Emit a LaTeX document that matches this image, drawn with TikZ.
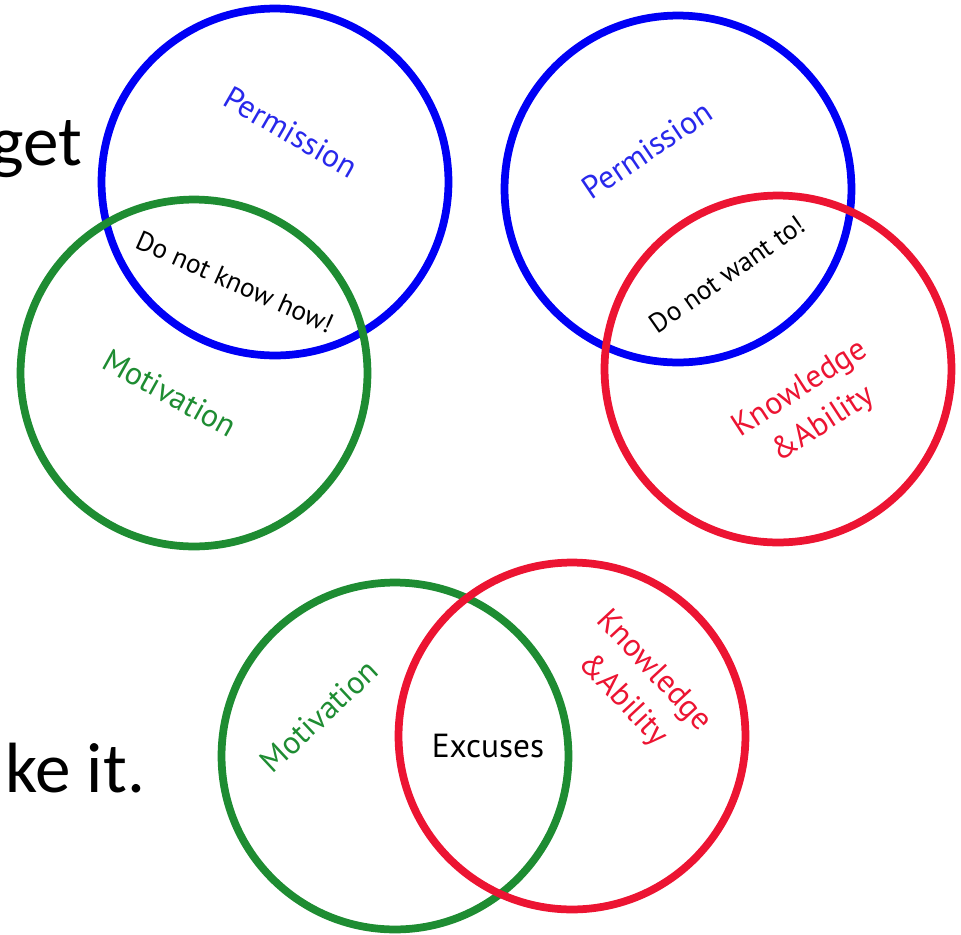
\documentclass[tikz,border=0pt]{standalone}
\usepackage{fontspec}
\setmainfont{Carlito}
\newfontfamily\vennfont{PT Sans}
\usetikzlibrary{positioning}
\definecolor{vennblue}{RGB}{0,0,245}
\definecolor{venngreen}{RGB}{30,140,50}
\definecolor{vennred}{RGB}{236,20,50}
\definecolor{txtblue}{RGB}{40,40,235}

\begin{document}
\begin{tikzpicture}[
    x=0.02cm, y=-0.02cm,
    ring/.style={circle, draw=#1, line width=0.155cm, minimum size=6.94cm, inner sep=0pt},
    lbl/.style={font=\vennfont\fontsize{18.2}{24}\selectfont, text=#1, align=center, inner sep=0pt},
    inter/.style={font=\vennfont\fontsize{15.5}{19}\selectfont, inner sep=0pt},
    big/.style={font=\fontsize{40.5}{48}\selectfont, inner sep=0pt}
]
    \useasboundingbox (0,0) rectangle (961,934);
    \clip (0,0) rectangle (961,934);

    % Slide text behind the diagram
    \node[big, anchor=base east] (t1) at (83,165) {get};
    \node[big, anchor=base west] (t2) at (5,792) {ke it.};

    % Top left: permission + motivation
    \node[ring=vennblue] (p1) at (275,182) {};
    \node[ring=venngreen] (m1) at (194,373) {};
    \node[lbl=txtblue, rotate=-30] (p1l) at (291,132) {Permission};
    \node[lbl=venngreen, rotate=-29] (m1l) at (170,393) {Motivation};
    \node[inter, rotate=-24] (i1) at (235,282) {Do not know how!};

    % Top right: permission + knowledge
    \node[ring=vennblue] (p2) at (678,189) {};
    \node[ring=vennred] (k2) at (778,369) {};
    \node[lbl=txtblue, rotate=34] (p2l) at (647,150) {Permission};
    \node[lbl=vennred, rotate=33] (k2l) at (812,407) {Knowledge\\\&Ability};
    \node[inter, rotate=35] (i2) at (727,274) {Do not want to!};

    % Bottom: motivation + knowledge
    \node[ring=venngreen] (m3) at (395,756) {};
    \node[ring=vennred] (k3) at (572,736) {};
    \node[lbl=venngreen, rotate=43] (m3l) at (319,716) {Motivation};
    \node[lbl=vennred, rotate=-47] (k3l) at (638,686) {Knowledge\\\&Ability};
    \node[inter, font=\vennfont\fontsize{19}{22}\selectfont] (i3) at (488,746) {Excuses};
\end{tikzpicture}
\end{document}
